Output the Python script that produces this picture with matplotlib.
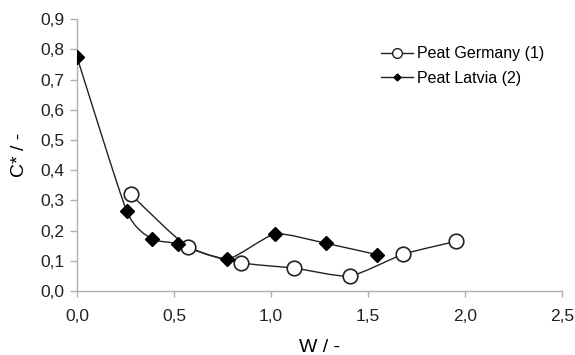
import numpy as np
import matplotlib
matplotlib.use('Agg')
import matplotlib.pyplot as plt
from matplotlib.path import Path
from matplotlib.patches import PathPatch
from matplotlib.ticker import FuncFormatter

plt.rcParams['font.family'] = ['Liberation Sans', 'DejaVu Sans']

# values
w_germany = [0.277, 0.57, 0.844, 1.12, 1.407, 1.682, 1.957]
c_germany = [0.32, 0.147, 0.094, 0.076, 0.05, 0.122, 0.165]
w_latvia = [0.0, 0.256, 0.385, 0.519, 0.775, 1.022, 1.284, 1.545]
c_latvia = [0.774, 0.265, 0.173, 0.157, 0.106, 0.189, 0.158, 0.121]


def smooth_path(x, y, t=0.1):
    # excel-like smoothed line: cubic bezier through the points
    p = np.column_stack([x, y])
    n = len(p)
    verts = [p[0]]
    codes = [Path.MOVETO]
    for i in range(n - 1):
        p0 = p[i - 1] if i > 0 else p[i]
        p3 = p[i + 2] if i + 2 < n else p[i + 1]
        c1 = p[i] + (p[i + 1] - p0) * t
        c2 = p[i + 1] - (p3 - p[i]) * t
        verts += [c1, c2, p[i + 1]]
        codes += [Path.CURVE4] * 3
    return Path(verts, codes)


fig = plt.figure(figsize=(5.75, 3.55), dpi=100)
ax = fig.add_axes([0.134, 0.180, 0.843, 0.766])

for x, y in [(w_germany, c_germany), (w_latvia, c_latvia)]:
    ax.add_patch(PathPatch(smooth_path(x, y), fill=False, color='#222222', lw=1.0, zorder=2))

ax.plot(w_germany, c_germany, ls='none', marker='o', ms=10.5, mfc='white', mec='#222222',
        mew=1.2, zorder=3)
ax.plot(w_latvia, c_latvia, ls='none', marker='D', ms=7, mfc='black', mec='black', zorder=3)

# legend proxies
ax.plot([], [], color='#222222', lw=1.0, marker='o', ms=7, mfc='white', mec='#222222',
        label='Peat Germany (1)')
ax.plot([], [], color='#222222', lw=1.0, marker='D', ms=3.5, mfc='black', mec='black',
        label='Peat Latvia (2)')
ax.legend(loc='upper left', bbox_to_anchor=(0.663, 0.870), bbox_transform=fig.transFigure,
          frameon=False, fontsize=11.5, borderpad=0, borderaxespad=0,
          handlelength=2.0, handletextpad=0.25, labelspacing=0.6)

ax.set_xlim(0, 2.5)
ax.set_ylim(0, 0.9)
ax.set_xticks(np.arange(0, 2.51, 0.5))
ax.set_yticks(np.arange(0, 0.91, 0.1))
comma = FuncFormatter(lambda v, pos: f'{v:.1f}'.replace('.', ','))
ax.xaxis.set_major_formatter(comma)
ax.yaxis.set_major_formatter(comma)
ax.tick_params(labelsize=12.5, length=5, width=1, colors='#222222')
ax.tick_params(axis='both', which='both', color='#b0b0b0')
ax.tick_params(axis='x', pad=9, length=4)
ax.tick_params(axis='y', pad=4)

for s in ['top', 'right']:
    ax.spines[s].set_visible(False)
for s in ['left', 'bottom']:
    ax.spines[s].set_color('#b0b0b0')
    ax.spines[s].set_linewidth(1.0)

ax.set_xlabel('W / -', fontsize=14, labelpad=11)
ax.set_ylabel('C* / -', fontsize=14, labelpad=9)

fig.savefig('out.png', dpi=100)
